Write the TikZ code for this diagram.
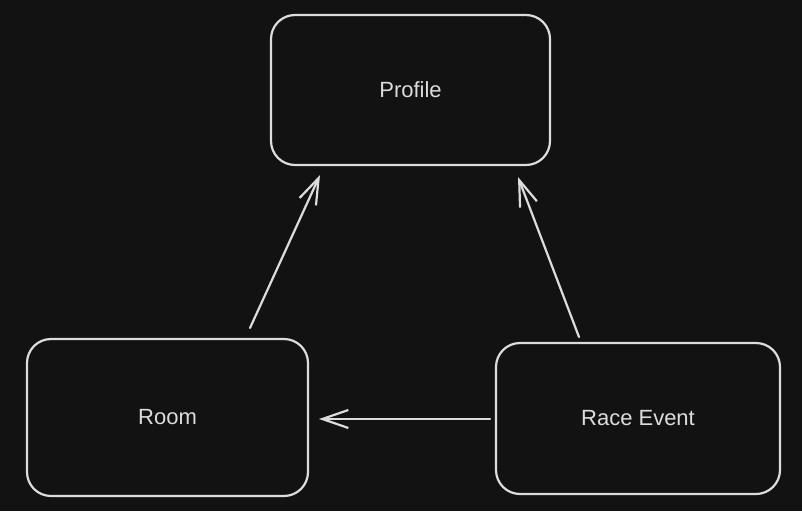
\documentclass[tikz,border=0pt]{standalone}
\usepackage{fontspec}
\setmainfont{Liberation Sans}
\usetikzlibrary{arrows.meta}
\definecolor{bg}{HTML}{121212}
\definecolor{ink}{HTML}{DCDCDC}
\begin{document}
\begin{tikzpicture}[x=1pt,y=-1pt,
  box/.style={draw=ink, line width=2.2pt, rounded corners=24pt, fill=bg},
  lbl/.style={text=ink, font=\fontsize{22}{26}\selectfont},
  conn/.style={draw=ink, line width=2.2pt, line cap=round, -{Straight Barb[length=26pt,width=18pt,line width=2.2pt]}}]
\fill[bg] (0,0) rectangle (802,511);
\useasboundingbox (0,0) rectangle (802,511);
\draw[box] (271,15) rectangle (550,165);
\draw[box] (27,339) rectangle (308,496);
\draw[box] (496,343) rectangle (780,494);
\node[lbl] (profile) at (410.5,90) {Profile};
\node[lbl] (room) at (167.5,417.5) {Room};
\node[lbl] (race) at (638,418.5) {Race Event};
\coordinate (a1s) at (250,328);
\coordinate (a1e) at (320,175);
\coordinate (a2s) at (579,337);
\coordinate (a2e) at (518,177);
\coordinate (a3s) at (490,419);
\coordinate (a3e) at (319,419);
\draw[conn] (a1s) -- (a1e);
\draw[conn] (a2s) -- (a2e);
\draw[conn] (a3s) -- (a3e);
\end{tikzpicture}
\end{document}
